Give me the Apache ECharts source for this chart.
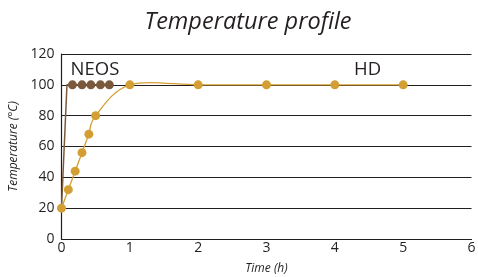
<!DOCTYPE html>
<html><head><meta charset="utf-8">
<script src="https://cdn.jsdelivr.net/npm/echarts@6/dist/echarts.min.js"></script>
<style>html,body{margin:0;padding:0;background:#fff}#c{width:478px;height:277px}</style>
</head><body><div id="c"></div>
<script>
const xTicks = [0,1,2,3,4,5,6];
const yTicks = [0,20,40,60,80,100,120];
const neosTime = [0, 0.08, 0.16, 0.3, 0.43, 0.57, 0.7];
const neosTemp = [20, 100, 100, 100, 100, 100, 100];
const hdTime = [0, 0.1, 0.2, 0.3, 0.4, 0.5, 1, 2, 3, 4, 5];
const hdTemp = [20, 32, 44, 56, 68, 80, 100, 100, 100, 100, 100];
const labelNames = ['NEOS', 'HD'];
const labelTime = [0.49, 4.48];
const labelTemp = [109.5, 109.5];

const FONT = 'Open Sans';
const TXT = '#231f20';
const GOLD = '#d39f34';
const BROWN = '#7b5a3c';

// Catmull-Rom curve through the HD points, drawn in pixel space via the axis scales
function hdCurve(params, api) {
  if (params.dataIndex !== 0) return null;
  const pts = hdTime.map((t,i)=>api.coord([t, hdTemp[i]]));
  const n = pts.length;
  let d = 'M' + pts[0][0] + ' ' + pts[0][1];
  for (let i = 0; i < n-1; i++) {
    const p0 = pts[Math.max(0,i-1)], p1 = pts[i], p2 = pts[i+1], p3 = pts[Math.min(n-1,i+2)];
    const c1 = [p1[0] + (p2[0]-p0[0])/6, p1[1] + (p2[1]-p0[1])/6];
    const c2 = [p2[0] - (p3[0]-p1[0])/6, p2[1] - (p3[1]-p1[1])/6];
    d += ' C' + c1[0] + ' ' + c1[1] + ' ' + c2[0] + ' ' + c2[1] + ' ' + p2[0] + ' ' + p2[1];
  }
  return {type:'path', shape:{pathData:d}, style:{stroke:GOLD, fill:null, lineWidth:1.3}};
}

const chart = echarts.init(document.getElementById('c'), null, {renderer:'canvas'});
chart.setOption({
  animation:false,
  title:{text:'Temperature profile', left:243, textAlign:'center', top:6,
    textStyle:{fontFamily:FONT, fontStyle:'italic', fontWeight:'normal', fontSize:23.5, color:TXT}},
  grid:{left:61.5, right:6.5, top:54, bottom:38, containLabel:false, outerBoundsMode:'none'},
  xAxis:{type:'value', min:xTicks[0], max:xTicks[xTicks.length-1], interval:1,
    name:'Time (h)', nameLocation:'middle', nameGap:24,
    nameTextStyle:{fontFamily:FONT, fontStyle:'italic', fontSize:12, color:TXT},
    axisLine:{lineStyle:{color:TXT, width:1.2}}, axisTick:{show:false},
    axisLabel:{fontFamily:FONT, fontSize:14, color:TXT, margin:2},
    splitLine:{show:false}},
  yAxis:{type:'value', min:yTicks[0], max:yTicks[yTicks.length-1], interval:20,
    name:'Temperature (°C)', nameLocation:'middle', nameGap:42, nameRotate:90,
    nameTextStyle:{fontFamily:FONT, fontStyle:'italic', fontSize:12, color:TXT},
    axisLine:{show:true, lineStyle:{color:TXT, width:1.2}}, axisTick:{show:false},
    axisLabel:{fontFamily:FONT, fontSize:14, color:TXT, margin:7},
    splitLine:{show:true, lineStyle:{color:TXT, width:1.2}}},
  series:[
    {name:'NEOS', type:'line', z:3,
     data:neosTime.map((t,i)=>({value:[t,neosTemp[i]], symbol: i<2?'none':'circle'})),
     symbolSize:9, showAllSymbol:true,
     itemStyle:{color:BROWN}, lineStyle:{color:BROWN, width:1.5}},
    {name:'HD curve', type:'custom', z:4, coordinateSystem:'cartesian2d',
     data:hdTime.map((t,i)=>[t,hdTemp[i]]), encode:{x:0, y:1},
     renderItem:hdCurve},
    {name:'HD', type:'scatter', z:5,
     data:hdTime.map((t,i)=>[t,hdTemp[i]]),
     symbol:'circle', symbolSize:9, itemStyle:{color:GOLD, opacity:1}},
    {name:'labels', type:'scatter', z:6, symbolSize:0,
     itemStyle:{opacity:1, color:TXT},
     data:labelNames.map((n,i)=>({value:[labelTime[i],labelTemp[i]], name:n})),
     label:{show:true, position:'inside', formatter:p=>p.name,
       fontFamily:FONT, fontSize:18.5, color:TXT, textBorderWidth:0, textBorderColor:'transparent'}}
  ]
});
</script></body></html>
